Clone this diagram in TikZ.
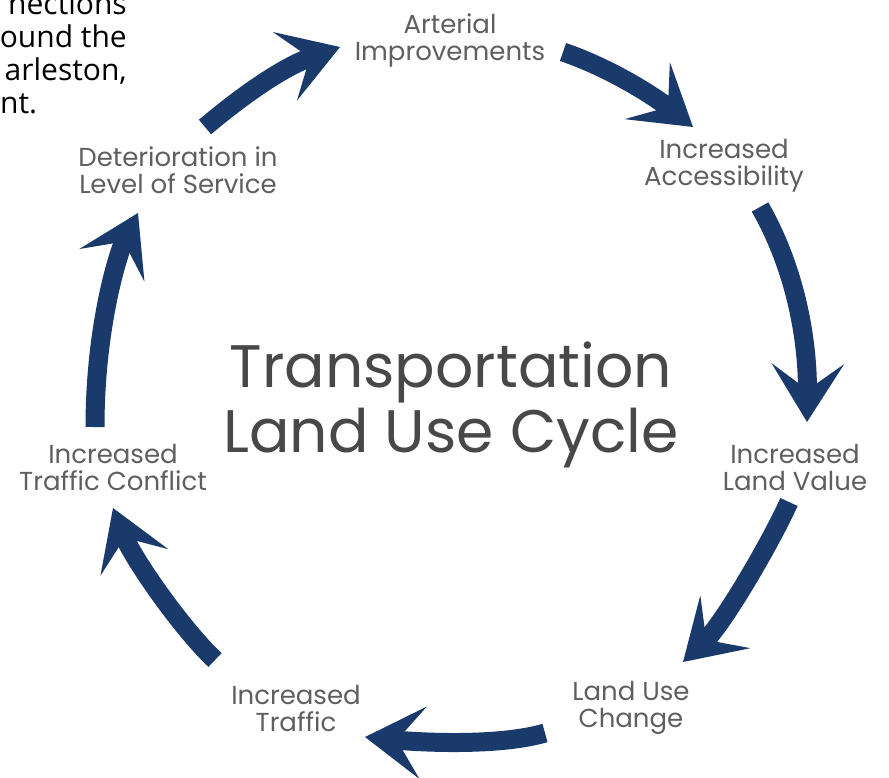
\documentclass[tikz,border=0pt]{standalone}
\usepackage{fontspec}
\usetikzlibrary{arrows.meta}
\setmainfont{Poppins}
\newfontfamily\pagefont{Open Sans}
\definecolor{cyclenavy}{RGB}{26,58,107}
\definecolor{labelgray}{RGB}{95,95,95}
\definecolor{titlegray}{RGB}{72,72,72}
\tikzset{
  stage/.style={align=center, inner sep=0pt, text=labelgray, font=\fontsize{26}{27}\selectfont},
  cyclearrow/.style={draw=cyclenavy, line width=19pt, -{Stealth[length=58pt, width=72pt, inset=26pt]}},
  pagetext/.style={inner sep=0pt, font=\pagefont\fontsize{30}{33}\selectfont}
}
\begin{document}
\begin{tikzpicture}[x=1pt, y=-1pt]
\useasboundingbox (0,0) rectangle (889,777);
\clip (0,0) rectangle (889,777);
\fill[white] (0,0) rectangle (889,777);
% bits of the page text beside the figure
\node[pagetext, anchor=base east] (pg1) at (127,14) {nections};
\node[pagetext, anchor=base east] (pg2) at (127,47) {ound the};
\node[pagetext, anchor=base east] (pg3) at (127,80) {arleston,};
\node[pagetext, anchor=base west] (pg4) at (0,113) {nt.};
% stages
\node[stage] (art) at (450,40) {Arterial\\Improvements};
\node[stage] (acc) at (724,166) {Increased\\Accessibility};
\node[stage] (val) at (795,467) {Increased\\Land Value};
\node[stage] (chg) at (631,708) {Land Use\\Change};
\node[stage] (trf) at (296,708) {Increased\\Traffic};
\node[stage] (cnf) at (113,467) {Increased\\Traffic Conflict};
\node[stage] (det) at (178,170) {Deterioration in\\Level of Service};
\node[align=center, inner sep=0pt, text=titlegray, font=\fontsize{60}{65}\selectfont] (title) at (451,405) {Transportation\\Land Use Cycle};
% arrow ends
\coordinate (det-o) at (205,127);
\coordinate (art-i) at (340,47);
\coordinate (art-o) at (563,52);
\coordinate (acc-i) at (693,127);
\coordinate (acc-o) at (760,207);
\coordinate (val-i) at (807,422);
\coordinate (val-o) at (789,502);
\coordinate (chg-i) at (683,662);
\coordinate (chg-o) at (545,733);
\coordinate (trf-i) at (365,737);
\coordinate (trf-o) at (215,660);
\coordinate (cnf-i) at (113,508);
\coordinate (cnf-o) at (95,427);
\coordinate (det-i) at (138,213);
% the cycle
\draw[cyclearrow] (det-o) .. controls +(38,-32) and +(-57,20) .. (art-i);
\draw[cyclearrow] (art-o) .. controls +(47,16) and +(-39,-31) .. (acc-i);
\draw[cyclearrow] (acc-o) .. controls +(40,70) and +(1,-70) .. (val-i);
\draw[cyclearrow] (val-o) .. controls +(-19,42) and +(40,-38) .. (chg-i);
\draw[cyclearrow] (chg-o) .. controls +(-48,14) and +(50,5) .. (trf-i);
\draw[cyclearrow] (trf-o) .. controls +(-33,-31) and +(20,51) .. (cnf-i);
\draw[cyclearrow] (cnf-o) .. controls +(0,-100) and +(-20,40) .. (det-i);
\end{tikzpicture}
\end{document}
